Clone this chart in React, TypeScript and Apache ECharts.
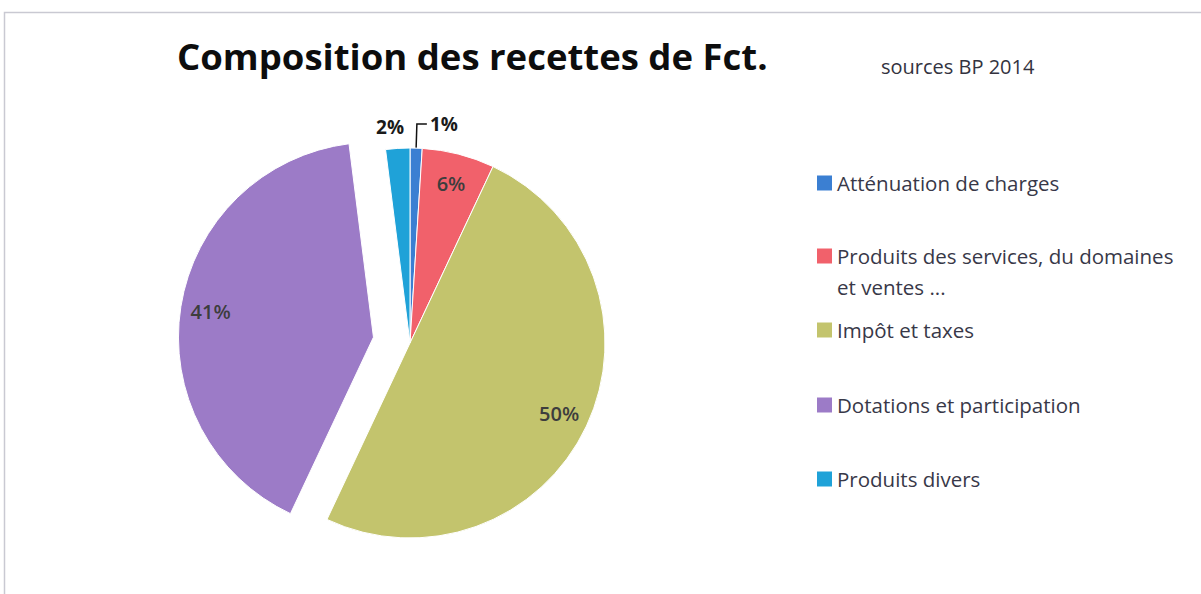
import React, { useEffect, useRef } from "react";
import * as echarts from "echarts";

const categories = [
  "Atténuation de charges",
  "Produits des services, du domaines et ventes ...",
  "Impôt et taxes",
  "Dotations et participation",
  "Produits divers",
];
const values = [1, 6, 50, 41, 2];
const colors = ["#3b7fd2", "#f1616b", "#c3c46d", "#9c7bc7", "#1fa2d8"];
const exploded = [false, false, false, true, false];
const legendCenters = [183, 256, 330, 405, 479];

const FONT = "'Open Sans', Lato, sans-serif";
const CENTER = [410, 343];
const R = 195;

export default function App() {
  const ref = useRef<HTMLDivElement>(null);
  useEffect(() => {
    if (!ref.current) return;
    const chart = echarts.init(ref.current, undefined, { renderer: "svg" });
    const mainData = categories.map((name, i) => ({
      name,
      value: values[i],
      selected: exploded[i],
      itemStyle: { color: colors[i] },
    }));
    const labelData = categories.map((name, i) => {
      const item: any = {
        name,
        value: values[i],
        selected: exploded[i],
        itemStyle: { color: "rgba(0,0,0,0)", borderWidth: 0 },
      };
      if (i === 0) {
        item.label = {
          position: "outside",
          color: "#1a1a1a",
          fontWeight: "bold",
          fontSize: 19,
          distanceToLabelLine: 3,
        };
        item.labelLine = {
          show: true,
          length: 24,
          length2: 10,
          lineStyle: { color: "#111", width: 1.5 },
        };
      } else if (i === 4) {
        item.label = {
          position: "outside",
          color: "#1a1a1a",
          fontWeight: "bold",
          fontSize: 19,
        };
        item.labelLine = { show: false, length: 12, length2: 0 };
      }
      return item;
    });
    const legends = categories.map((name, i) => {
      const multi = i === 1;
      const lh = multi ? 31 : 25;
      const h = multi ? lh * 3 : lh;
      return {
        orient: "vertical" as const,
        left: 817,
        top: legendCenters[i] - h / 2,
        padding: 0,
        data: [name],
        icon: "rect",
        itemWidth: 15,
        itemHeight: 15,
        itemStyle: { borderWidth: 0 },
        selectedMode: false,
        formatter: (n: string) =>
          n.startsWith("Produits des services")
            ? "\nProduits des services, du domaines\net ventes ..."
            : n,
        textStyle: {
          fontFamily: FONT,
          fontSize: 20.5,
          color: "#383848",
          lineHeight: lh,
        },
      };
    });
    chart.setOption({
      animation: false,
      backgroundColor: "#ffffff",
      title: [
        {
          text: "Composition des recettes de Fct.",
          left: 177,
          top: 37,
          padding: 0,
          textStyle: {
            fontFamily: FONT,
            fontSize: 36.5,
            fontWeight: "bold",
            color: "#0d0d0d",
          },
        },
        {
          text: "sources BP 2014",
          left: 881,
          top: 56,
          padding: 0,
          textStyle: {
            fontFamily: FONT,
            fontSize: 20,
            fontWeight: "normal",
            color: "#333340",
          },
        },
      ],
      legend: legends,
      graphic: [
        {
          type: "rect",
          shape: { x: 4.5, y: 12.5, width: 1300, height: 700 },
          style: { fill: "none", stroke: "#c9c9d2", lineWidth: 1.5 },
          silent: true,
        },
      ],
      series: [
        {
          type: "pie",
          center: CENTER,
          radius: [0, R],
          startAngle: 90,
          clockwise: true,
          selectedMode: "multiple",
          selectedOffset: 37,
          avoidLabelOverlap: false,
          label: { show: false },
          labelLine: { show: false },
          emphasis: { disabled: true },
          itemStyle: { borderColor: "#ffffff", borderWidth: 1 },
          data: mainData,
        },
        {
          type: "pie",
          center: CENTER,
          radius: [R * 0.66, R],
          startAngle: 90,
          clockwise: true,
          selectedMode: "multiple",
          selectedOffset: 37,
          avoidLabelOverlap: false,
          silent: true,
          emphasis: { disabled: true },
          label: {
            show: true,
            position: "inside",
            formatter: "{c}%",
            fontFamily: FONT,
            fontSize: 20,
            fontWeight: 600,
            color: "#3d3d3d",
          },
          labelLine: { show: false },
          labelLayout: (p: any) =>
            p.dataIndex === 4 ? { dx: 12, dy: -9 } : {},
          data: labelData,
        },
      ],
    });
    return () => chart.dispose();
  }, []);
  return (
    <div
      ref={ref}
      style={{ position: "absolute", left: 0, top: 0, width: 1201, height: 594 }}
    />
  );
}
